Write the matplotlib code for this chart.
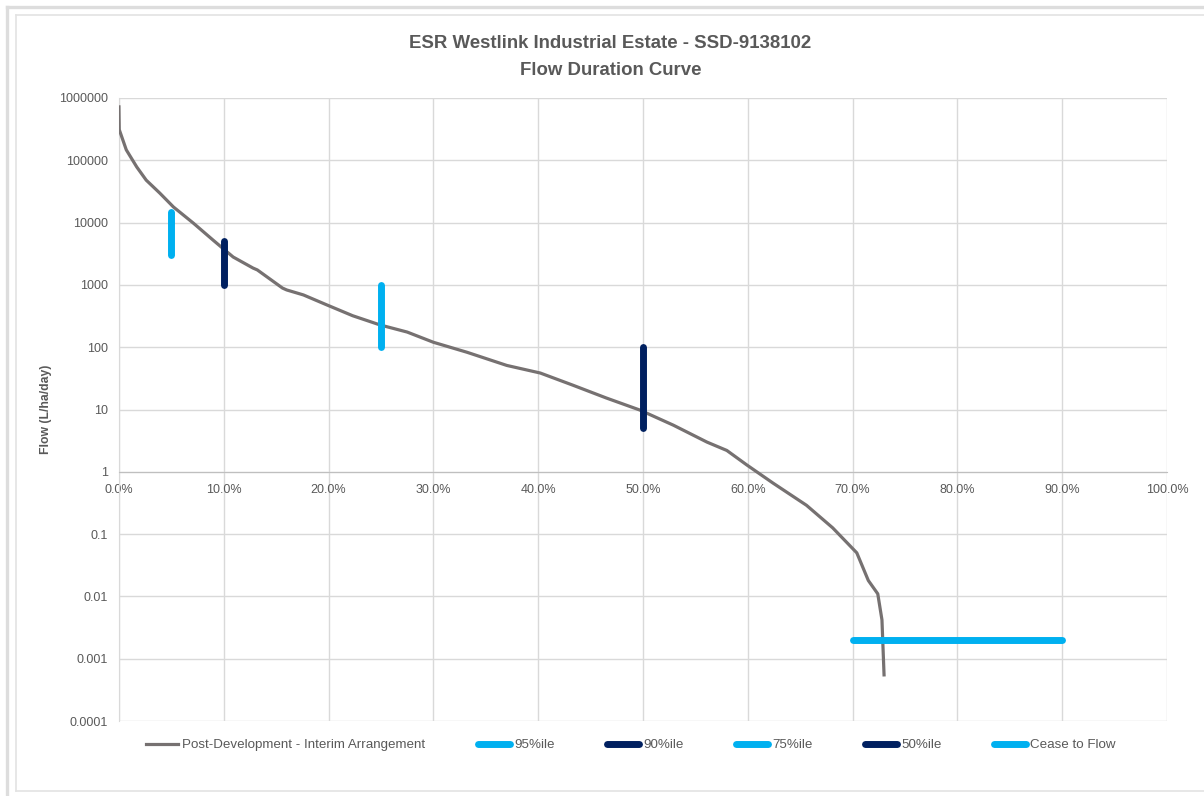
import numpy as np
import matplotlib.pyplot as plt
from matplotlib.lines import Line2D
from matplotlib.ticker import FixedLocator, NullLocator

# flow duration curve (% of time exceeded, L/ha/day)
curve_pct = [0.0, 0.03, 0.7, 1.7, 2.6, 3.9, 5.2, 7.1, 9.0, 10.3, 10.9, 12.8, 13.2,
             15.6, 16.0, 17.6, 19.8, 22.3, 24.9, 27.5, 30.0, 33.2, 37.0, 40.2,
             43.3, 46.5, 49.7, 52.9, 56.1, 58.0, 59.9, 62.4, 65.6, 68.1, 70.4,
             71.5, 72.4, 72.8, 73.0]
curve_flow = [720000, 310000, 147000, 78000, 48000, 29700, 17800, 9800, 5200, 3400,
              2800, 1860, 1740, 890, 830, 690, 480, 320, 228, 175, 120, 83, 51, 38.5,
              24.6, 15.3, 9.8, 5.6, 3.0, 2.2, 1.29, 0.66, 0.29, 0.126, 0.05,
              0.018, 0.011, 0.0042, 0.00055]

# percentile markers
p95_x, p95_y = [5, 5], [3000, 15000]
p90_x, p90_y = [10, 10], [1000, 5000]
p75_x, p75_y = [25, 25], [100, 1000]
p50_x, p50_y = [50, 50], [5, 100]
cease_x, cease_y = [70, 90], [0.002, 0.002]

y_ticks = [1e6, 1e5, 1e4, 1e3, 1e2, 10, 1, 0.1, 0.01, 0.001, 0.0001]
y_labels = ["1000000", "100000", "10000", "1000", "100", "10", "1",
            "0.1", "0.01", "0.001", "0.0001"]
x_ticks = list(range(0, 101, 10))
x_labels = [f"{v:.1f}%" for v in x_ticks]

light_blue = "#00B0F0"
navy = "#002060"
grey = "#767171"
txt = "#595959"

plt.rcParams['font.family'] = ['Liberation Sans', 'DejaVu Sans']

fig = plt.figure(figsize=(12.04, 7.96), dpi=100)
ax = fig.add_axes([0.0988, 0.0942, 0.8705, 0.7827])

ax.plot(curve_pct, curve_flow, color=grey, lw=2.3, label="Post-Development - Interim Arrangement", zorder=3)
ax.plot(p95_x, p95_y, color=light_blue, lw=5, solid_capstyle="round", label="95%ile", zorder=4)
ax.plot(p90_x, p90_y, color=navy, lw=5, solid_capstyle="round", label="90%ile", zorder=4)
ax.plot(p75_x, p75_y, color=light_blue, lw=5, solid_capstyle="round", label="75%ile", zorder=4)
ax.plot(p50_x, p50_y, color=navy, lw=5, solid_capstyle="round", label="50%ile", zorder=4)
ax.plot(cease_x, cease_y, color=light_blue, lw=5, solid_capstyle="round", label="Cease to Flow", zorder=4)

ax.set_yscale("log")
ax.set_xlim(0, 100)
ax.set_ylim(1e-4, 1e6)
ax.yaxis.set_major_locator(FixedLocator(y_ticks))
ax.yaxis.set_minor_locator(NullLocator())
ax.set_yticklabels(y_labels)
ax.set_xticks(x_ticks)
ax.set_xticklabels(x_labels)

ax.grid(True, color="#D9D9D9", lw=1, zorder=0)
ax.set_axisbelow(True)
for s in ["top", "right"]:
    ax.spines[s].set_visible(False)
ax.spines["bottom"].set_position(("data", 1))
ax.spines["bottom"].set_color("#BFBFBF")
ax.spines["left"].set_color("#D9D9D9")
ax.tick_params(length=0, labelsize=9, labelcolor=txt)
ax.tick_params(axis="x", pad=9)
ax.tick_params(axis="y", pad=8)

ax.set_ylabel("Flow (L/ha/day)", fontsize=8.8, fontweight="bold", color=txt, labelpad=5)

fig.text(0.507, 0.945, "ESR Westlink Industrial Estate - SSD-9138102", ha="center", va="center",
         fontsize=13.4, fontweight="bold", color=txt)
fig.text(0.507, 0.912, "Flow Duration Curve", ha="center", va="center",
         fontsize=13.4, fontweight="bold", color=txt)

leg = fig.legend(loc="center", bbox_to_anchor=(0.524, 0.064), ncol=6, frameon=False,
                 fontsize=9.6, handlelength=2.4, handletextpad=0.3, columnspacing=3.95)
for t in leg.get_texts():
    t.set_color(txt)

# chart frame (outer band + inner border)
W, H = 1204, 796
band = dict(color="#DDDDDD", lw=2.4, transform=fig.transFigure)
fig.add_artist(Line2D([7 / W, 7 / W], [0, 1 - 7 / H], **band))
fig.add_artist(Line2D([7 / W, 1], [1 - 7 / H, 1 - 7 / H], **band))
edge = dict(color="#E3E3E3", lw=1.2, transform=fig.transFigure)
fig.add_artist(Line2D([15.5 / W, 15.5 / W], [1 - 791 / H, 1 - 14.5 / H], **edge))
fig.add_artist(Line2D([15.5 / W, 1], [1 - 14.5 / H, 1 - 14.5 / H], **edge))
fig.add_artist(Line2D([15.5 / W, 1], [1 - 791 / H, 1 - 791 / H], **edge))

fig.savefig("out.png", dpi=100)
